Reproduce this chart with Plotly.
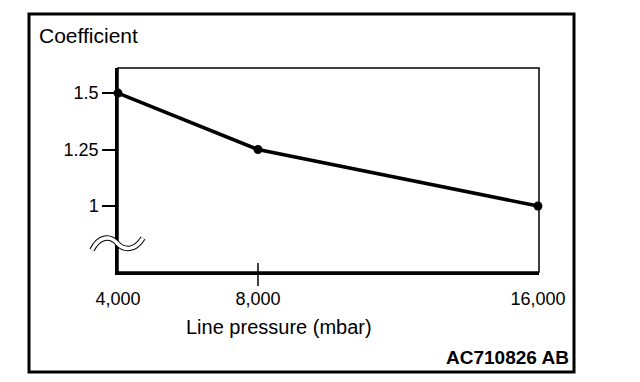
import plotly.graph_objects as go

# Data
pressure_mbar = [4000, 8000, 16000]
coefficient = [1.5, 1.25, 1.0]
x_tick_vals = [4000, 8000, 16000]
x_tick_text = ["4,000", "8,000", "16,000"]
y_tick_vals = [1.0, 1.25, 1.5]
y_tick_text = ["1", "1.25", "1.5"]
x_mid_ticks = [8000]

W, H = 640, 382
L, R, T, B = 118, 539, 68, 272  # plot area in pixels

def px(x):
    return (x - L) / (R - L)

def py(y):
    return (B - y) / (B - T)

FONT = "Liberation Sans, Arial, Helvetica, sans-serif"

fig = go.Figure()
fig.add_trace(go.Scatter(
    x=pressure_mbar, y=coefficient, mode="lines+markers",
    line=dict(color="black", width=3.5),
    marker=dict(color="black", size=9),
    cliponaxis=False, showlegend=False,
))

fig.update_layout(
    width=W, height=H,
    margin=dict(l=L, r=W - R, t=T, b=H - B, pad=0),
    paper_bgcolor="white", plot_bgcolor="white",
    font=dict(family=FONT, size=18, color="black"),
    xaxis=dict(
        range=[4000, 16030], tickvals=x_tick_vals, ticktext=x_tick_text,
        ticks="", showgrid=False, zeroline=False,
        showline=True, linecolor="black", linewidth=2.5,
        ticklabelstandoff=9, tickfont=dict(size=18),
    ),
    yaxis=dict(
        range=[0.708, 1.611], tickvals=y_tick_vals, ticktext=y_tick_text,
        ticks="outside", ticklen=13, tickwidth=1.5, tickcolor="black",
        showgrid=False, zeroline=False,
        showline=True, linecolor="black", linewidth=2.5,
        tickfont=dict(size=18),
    ),
)

# plot box (thin top/right)
fig.add_shape(type="rect", xref="paper", yref="paper", x0=0, x1=1, y0=0, y1=1,
              line=dict(color="black", width=1.5), layer="below")
# outer frame
fig.add_shape(type="rect", xref="paper", yref="paper",
              x0=px(29), x1=px(574), y0=py(372), y1=py(14),
              line=dict(color="black", width=3))
# mid tick crossing x axis
for v in x_mid_ticks:
    fig.add_shape(type="line", xref="x", yref="paper", x0=v, x1=v,
                  y0=py(286), y1=py(263), line=dict(color="black", width=1.5))

# axis break symbol (double wave)
def wave():
    pts = [(92, 250), (99, 236), (110, 235), (117, 243), (124, 251), (135, 251), (143, 238)]
    p = [(px(x), py(y)) for x, y in pts]
    return (f"M {p[0][0]},{p[0][1]} C {p[1][0]},{p[1][1]} {p[2][0]},{p[2][1]} {p[3][0]},{p[3][1]} "
            f"C {p[4][0]},{p[4][1]} {p[5][0]},{p[5][1]} {p[6][0]},{p[6][1]}")

fig.add_shape(type="path", xref="paper", yref="paper", path=wave(),
              line=dict(color="black", width=5.5))
fig.add_shape(type="path", xref="paper", yref="paper", path=wave(),
              line=dict(color="white", width=3.5))

fig.add_annotation(text="Coefficient", xref="paper", yref="paper",
                   x=px(37), y=py(36), xanchor="left", yanchor="middle",
                   showarrow=False, font=dict(size=21))
fig.add_annotation(text="Line pressure (mbar)", xref="paper", yref="paper",
                   x=px(279), y=py(327), xanchor="center", yanchor="middle",
                   showarrow=False, font=dict(size=20))
fig.add_annotation(text="<b>AC710826 AB</b>", xref="paper", yref="paper",
                   x=px(571), y=py(357), xanchor="right", yanchor="middle",
                   showarrow=False, font=dict(size=19))

fig.write_html("out.html", post_script="document.body.style.margin='0';",
               config={"displayModeBar": False})
